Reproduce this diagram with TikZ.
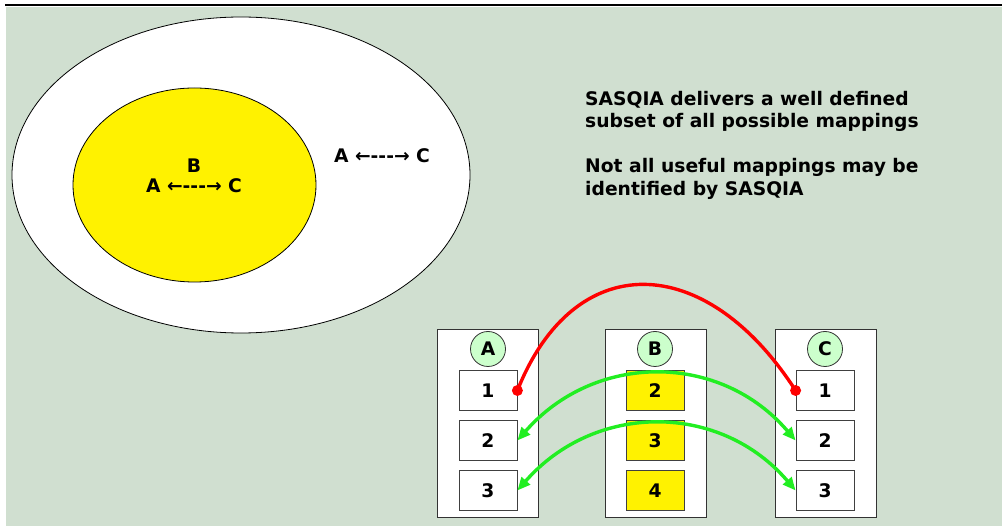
\documentclass[tikz,border=0pt]{standalone}
\usepackage{fontspec}
\setmainfont{DejaVu Sans}
\usetikzlibrary{arrows.meta}
\definecolor{panel}{HTML}{D0DFD0}
\definecolor{headfill}{HTML}{CCFFCC}
\definecolor{linkgreen}{HTML}{22EE22}
\newcommand{\mapsymbol}{←-{}-{}-→}
\begin{document}
\begin{tikzpicture}[x=1pt,y=-1pt,
  every node/.style={font=\fontsize{18.7}{22.4}\selectfont\bfseries, inner sep=0pt},
  column/.style={draw=black!80, fill=white, line width=0.8pt, minimum width=101pt, minimum height=188pt},
  cell/.style={draw=black!75, fill=white, line width=0.8pt, minimum width=58pt, minimum height=40pt},
  yellowcell/.style={cell, fill=yellow},
  head/.style={circle, draw=black!80, fill=headfill, line width=0.8pt, minimum size=35pt},
  greenlink/.style={draw=linkgreen, line width=3.4pt, {Triangle[length=13pt,width=11pt]}-{Triangle[length=13pt,width=11pt]}},
  redlink/.style={draw=red, line width=3.4pt}
]
\useasboundingbox (0,0) rectangle (1002,526);
% background panel and top rule
\fill[panel] (6,7) rectangle (1002,526);
\draw[line width=2.5pt] (5,5) -- (1002,5);

% nested sets of mappings
\draw[fill=white, line width=0.8pt] (241,175) ellipse [x radius=229, y radius=158];
\draw[fill=yellow, line width=0.8pt] (194.5,185) ellipse [x radius=121.5, y radius=97];
\node (setb) at (194,166) {B};
\node (setac) at (194,186) {A \mapsymbol{} C};
\node (allac) at (382,156) {A \mapsymbol{} C};

% explanatory text
\node[anchor=north west, align=left] (note) at (585,91)
  {SASQIA delivers a well defined\\subset of all possible mappings\\[22.4pt]Not all useful mappings may be\\identified by SASQIA};

% the three columns
\node[column] (colA) at (487.5,423) {};
\node[column] (colB) at (655.5,423) {};
\node[column] (colC) at (825.5,423) {};
\node[head] (hA) at (488,349) {A};
\node[head] (hB) at (655,349) {B};
\node[head] (hC) at (825,349) {C};

\node[cell] (a1) at (488,390.5) {1};
\node[cell] (a2) at (488,440.5) {2};
\node[cell] (a3) at (488,490.5) {3};
\node[yellowcell] (b2) at (655,390.5) {2};
\node[yellowcell] (b3) at (655,440.5) {3};
\node[yellowcell] (b4) at (655,490.5) {4};
\node[cell] (c1) at (825,390.5) {1};
\node[cell] (c2) at (825,440.5) {2};
\node[cell] (c3) at (825,490.5) {3};

% direct mapping A1 -- C1
\draw[redlink] (a1.east) .. controls (574,248) and (705,250) .. (c1.west);
\fill[red] (a1.east) circle (5.5);
\fill[red] (c1.west) circle (5.5);

% mappings through B
\draw[greenlink] (a2.east) .. controls (595,352) and (720,352) .. (c2.west);
\draw[greenlink] (a3.east) .. controls (595,402) and (720,402) .. (c3.west);
\end{tikzpicture}
\end{document}
